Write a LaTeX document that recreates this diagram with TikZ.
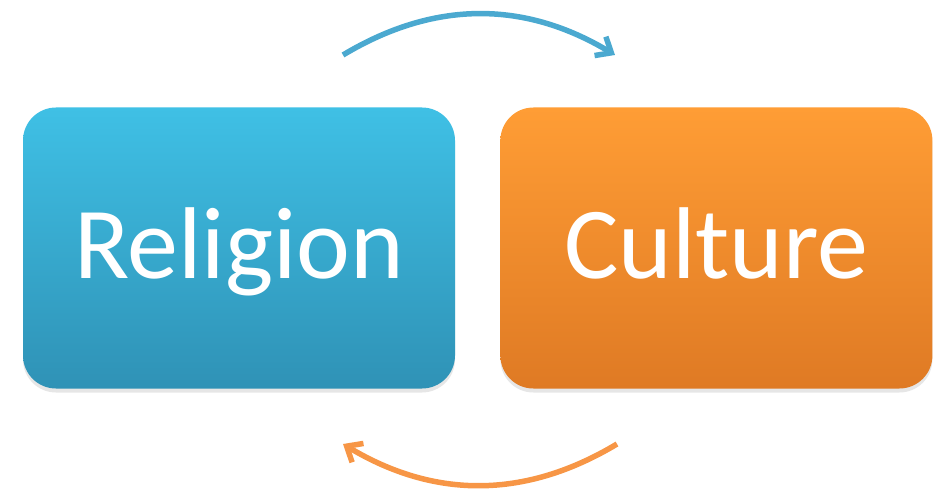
\documentclass[tikz,border=0pt]{standalone}
\usepackage{fontspec}
\setmainfont{Carlito}
\usetikzlibrary{arrows.meta, positioning, shadows}

\definecolor{reltop}{HTML}{3FC0E5}
\definecolor{relbottom}{HTML}{2F92B6}
\definecolor{cultop}{HTML}{FF9D35}
\definecolor{culbottom}{HTML}{DF7A24}
\definecolor{arrowblue}{HTML}{4BA9D0}
\definecolor{arroworange}{HTML}{F79646}

\begin{document}
\begin{tikzpicture}[x=1pt, y=-1pt,
  box/.style={rounded corners=33pt, minimum width=432pt, minimum height=281pt,
    text=white, font=\fontsize{102}{122}\selectfont,
    text height=76pt, text depth=15pt,
    drop shadow={shadow xshift=0pt, shadow yshift=-4pt, opacity=0.2}},
  cyclearrow/.style={line width=5.5pt, -{Straight Barb[length=13pt,width=22pt]}}
]

% Fix the canvas
\useasboundingbox (0,0) rectangle (943,492);

% Draw the two boxes
\node[box, top color=reltop, bottom color=relbottom] (religion) at (239,248) {Religion};
\node[box, top color=cultop, bottom color=culbottom, right=45pt of religion] (culture) {Culture};

% Ends of the arrows
\coordinate (top start) at (343,55);
\coordinate (top end) at (615,55);
\coordinate (bottom start) at (617,444);
\coordinate (bottom end) at (343,444);

% Religion shapes culture
\draw[cyclearrow, arrowblue] (top start) to[bend left=31] (top end);

% Culture shapes religion
\draw[cyclearrow, arroworange] (bottom start) to[bend left=31] (bottom end);

\end{tikzpicture}
\end{document}
